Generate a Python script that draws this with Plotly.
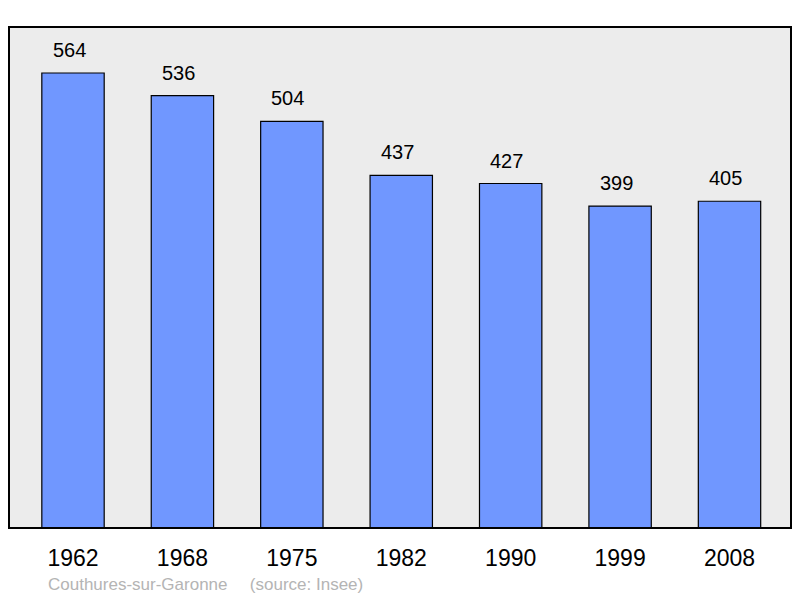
import plotly.graph_objects as go

years = ["1962", "1968", "1975", "1982", "1990", "1999", "2008"]
population = [564, 536, 504, 437, 427, 399, 405]
place = "Couthures-sur-Garonne"
source = "(source: Insee)"

xpos = list(range(len(years)))

fig = go.Figure(go.Bar(
    x=xpos, y=population, width=0.57,
    marker=dict(color="#7097ff", line=dict(color="black", width=1.2)),
    hoverinfo="skip",
))

# value labels above bars (sit a little left of centre in the original)
for x, v in zip(xpos, population):
    fig.add_annotation(x=x, y=v, text=str(v), showarrow=False,
                       yanchor="bottom", yshift=10, xshift=-4,
                       font=dict(family="Liberation Sans", size=20, color="black"))

fig.add_annotation(xref="paper", yref="paper", x=0.0474, y=-0.112,
                   xanchor="left", yanchor="middle", showarrow=False,
                   text=place + "\u00a0" * 4 + "\u2009" + source,
                   font=dict(family="Liberation Sans", size=17, color="#b4b4b4"))

# frame around the plot area
fig.add_shape(type="rect", xref="paper", yref="paper", x0=0, y0=0, x1=1, y1=1,
              line=dict(color="black", width=2), layer="above")

fig.update_layout(
    width=800, height=598,
    margin=dict(l=9, r=9, t=27, b=70),
    paper_bgcolor="white", plot_bgcolor="#ececec",
    showlegend=False,
    font=dict(family="Liberation Sans"),
    xaxis=dict(range=[-0.585, 6.562], tickvals=xpos, ticktext=years,
               showgrid=False, zeroline=False, ticks="", ticklabelstandoff=14,
               tickfont=dict(size=23, color="black"), fixedrange=True),
    yaxis=dict(range=[0, 621], showgrid=False, zeroline=False,
               showticklabels=False, ticks="", fixedrange=True),
)

fig.write_html("out.html", config={"displayModeBar": False},
               post_script="document.body.style.margin='0';"
                           "document.body.style.overflow='hidden';")
